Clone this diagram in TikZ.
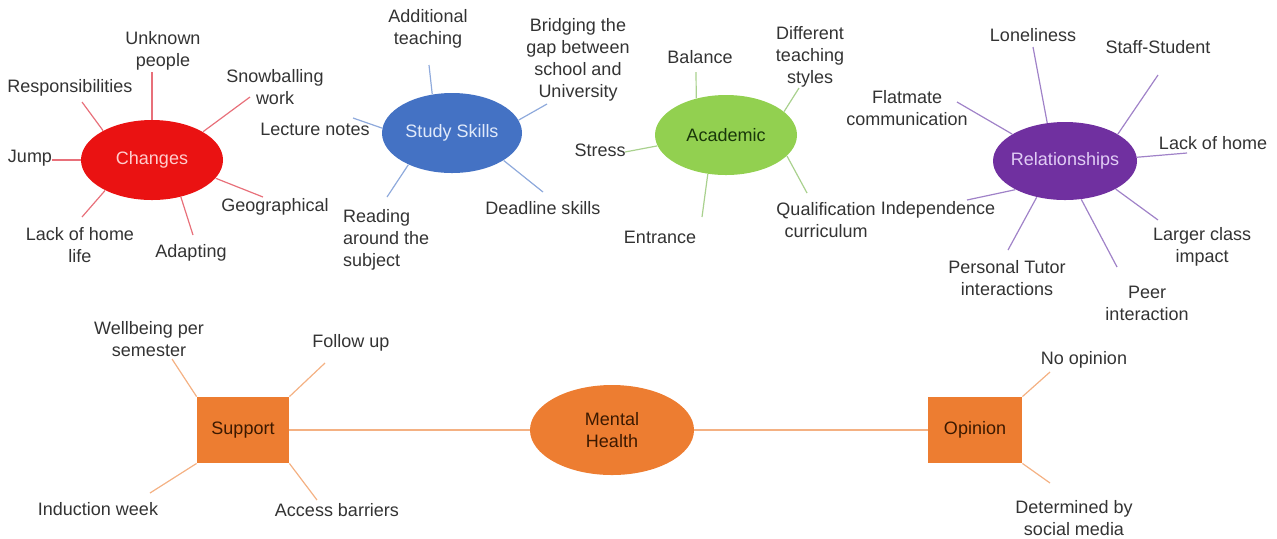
\documentclass[tikz,border=0pt]{standalone}
\usepackage{fontspec}
\setmainfont{Liberation Sans}
\usetikzlibrary{shapes.geometric}

\definecolor{labelgray}{RGB}{51,51,51}
\definecolor{chgred}{RGB}{234,18,18}
\definecolor{chgline}{RGB}{232,112,122}
\definecolor{studyblue}{RGB}{68,114,196}
\definecolor{studyline}{RGB}{143,170,220}
\definecolor{acadgreen}{RGB}{146,208,80}
\definecolor{acadline}{RGB}{169,209,142}
\definecolor{relpurple}{RGB}{112,48,160}
\definecolor{relline}{RGB}{160,130,200}
\definecolor{mhorange}{RGB}{237,125,49}
\definecolor{mhline}{RGB}{244,177,131}

\begin{document}
\begin{tikzpicture}[x=0.5pt,y=-0.5pt,
  lbl/.style={text=labelgray,align=center,font=\fontsize{9}{11}\selectfont},
  hub/.style={ellipse,inner sep=-2pt,align=center,font=\fontsize{9}{11}\selectfont},
  sqbox/.style={rectangle,fill=mhorange,inner sep=0pt,minimum height=33pt,text={rgb,255:red,60;green,25;blue,0},font=\fontsize{9}{11}\selectfont},
  spoke/.style={line width=0.6pt}]
\useasboundingbox (0,0) rectangle (1277,538);

\node[hub,fill=chgred,text={rgb,255:red,255;green,205;blue,205},minimum width=71pt,minimum height=40pt] (chg) at (152,160) {Changes};
\node[hub,fill=studyblue,text={rgb,255:red,225;green,234;blue,250},minimum width=70pt,minimum height=40pt] (study) at (452,133) {Study Skills};
\node[hub,fill=acadgreen,text={rgb,255:red,25;green,55;blue,10},minimum width=71pt,minimum height=40pt] (acad) at (726,135) {Academic};
\node[hub,fill=relpurple,text={rgb,255:red,225;green,205;blue,245},minimum width=72pt,minimum height=39pt] (rel) at (1065,161) {Relationships};
\node[hub,fill=mhorange,text={rgb,255:red,60;green,25;blue,0},minimum width=82pt,minimum height=45pt] (mh) at (612,430) {Mental\\Health};
\node[sqbox,minimum width=46pt] (sup) at (243,430) {Support};
\node[sqbox,minimum width=47pt] (opin) at (975,430) {Opinion};

\coordinate (c-unk) at (152,72);
\coordinate (c-resp) at (82,102);
\coordinate (c-snow) at (250,97);
\coordinate (c-jump) at (52,160);
\coordinate (c-geo) at (263,197);
\coordinate (c-adapt) at (193,235);
\coordinate (c-lack) at (82,217);
\coordinate (s-add) at (429,65);
\coordinate (s-bridge) at (547,104);
\coordinate (s-lect) at (353,118);
\coordinate (s-dead) at (543,192);
\coordinate (s-read) at (387,197);
\coordinate (a-bal) at (696,72);
\coordinate (a-diff) at (799,88);
\coordinate (a-stress) at (625,152);
\coordinate (a-ent) at (702,217);
\coordinate (a-qual) at (807,193);
\coordinate (r-lone) at (1033,47);
\coordinate (r-staff) at (1158,75);
\coordinate (r-flat) at (957,102);
\coordinate (r-lack) at (1187,153);
\coordinate (r-indep) at (967,200);
\coordinate (r-larger) at (1158,220);
\coordinate (r-pers) at (1008,250);
\coordinate (r-peer) at (1117,267);
\coordinate (m-well) at (172,359);
\coordinate (m-follow) at (325,363);
\coordinate (m-induct) at (150,493);
\coordinate (m-access) at (317,500);
\coordinate (o-no) at (1050,372);
\coordinate (o-det) at (1050,483);

\draw[spoke,chgline] (chg.90) -- (c-unk);
\draw[spoke,chgline] (chg.149) -- (c-resp);
\draw[spoke,chgline] (chg.29) -- (c-snow);
\draw[spoke,chgline] (chg.180) -- (c-jump);
\draw[spoke,chgline] (chg.-16) -- (c-geo);
\draw[spoke,chgline] (chg.-52) -- (c-adapt);
\draw[spoke,chgline] (chg.213) -- (c-lack);

\draw[spoke,studyline] (study.117) -- (s-add);
\draw[spoke,studyline] (study.11) -- (s-bridge);
\draw[spoke,studyline] (study.176) -- (s-lect);
\draw[spoke,studyline] (study.-28) -- (s-dead);
\draw[spoke,studyline] (study.216) -- (s-read);

\draw[spoke,acadline] (acad.129) -- (a-bal);
\draw[spoke,acadline] (acad.22) -- (a-diff);
\draw[spoke,acadline] (acad.189) -- (a-stress);
\draw[spoke,acadline] (acad.245) -- (a-ent);
\draw[spoke,acadline] (acad.-19) -- (a-qual);

\draw[spoke,relline] (rel.115) -- (r-lone);
\draw[spoke,relline] (rel.27) -- (r-staff);
\draw[spoke,relline] (rel.153) -- (r-flat);
\draw[spoke,relline] (rel.3) -- (r-lack);
\draw[spoke,relline] (rel.210) -- (r-indep);
\draw[spoke,relline] (rel.-29) -- (r-larger);
\draw[spoke,relline] (rel.232) -- (r-pers);
\draw[spoke,relline] (rel.-67) -- (r-peer);

\draw[spoke,mhline] (sup.north west) -- (m-well);
\draw[spoke,mhline] (sup.north east) -- (m-follow);
\draw[spoke,mhline] (sup.south west) -- (m-induct);
\draw[spoke,mhline] (sup.south east) -- (m-access);
\draw[spoke,mhline] (sup) -- (mh);
\draw[spoke,mhline] (mh) -- (opin);
\draw[spoke,mhline] (opin.north east) -- (o-no);
\draw[spoke,mhline] (opin.south east) -- (o-det);

\node[lbl] (unk) at (163,51) {Unknown\\people};
\node[lbl] (resp) at (70,88) {Responsibilities};
\node[lbl] (snow) at (275,87) {Snowballing\\work};
\node[lbl] (jump) at (30,158) {Jump};
\node[lbl] (geo) at (275,207) {Geographical};
\node[lbl] (adapt) at (191,253) {Adapting};
\node[lbl] (lack) at (80,245) {Lack of home\\life};

\node[lbl] (add) at (428,29) {Additional\\teaching};
\node[lbl] (bridge) at (578,60) {Bridging the\\gap between\\school and\\University};
\node[lbl] (lect) at (315,129) {Lecture notes};
\node[lbl] (dead) at (543,208) {Deadline skills};
\node[lbl,align=left,anchor=west] (read) at (336,240) {Reading\\around the\\subject};

\node[lbl] (bal) at (700,57) {Balance};
\node[lbl] (diff) at (810,57) {Different\\teaching\\styles};
\node[lbl] (stress) at (600,150) {Stress};
\node[lbl] (ent) at (660,237) {Entrance};
\node[lbl] (qual) at (826,220) {Qualification\\curriculum};

\node[lbl] (lone) at (1033,35) {Loneliness};
\node[lbl] (staff) at (1158,47) {Staff-Student};
\node[lbl] (flat) at (907,108) {Flatmate\\communication};
\node[lbl] (lackhome) at (1213,143) {Lack of home};
\node[lbl] (indep) at (938,210) {Independence};
\node[lbl] (larger) at (1202,247) {Larger class\\impact};
\node[lbl] (pers) at (1007,278) {Personal Tutor\\interactions};
\node[lbl] (peer) at (1147,303) {Peer\\interaction};

\node[lbl] (well) at (149,339) {Wellbeing per\\semester};
\node[lbl] (follow) at (351,343) {Follow up};
\node[lbl] (induct) at (98,509) {Induction week};
\node[lbl] (access) at (337,510) {Access barriers};
\node[lbl] (noop) at (1084,360) {No opinion};
\node[lbl] (det) at (1074,518) {Determined by\\social media};
\end{tikzpicture}
\end{document}
